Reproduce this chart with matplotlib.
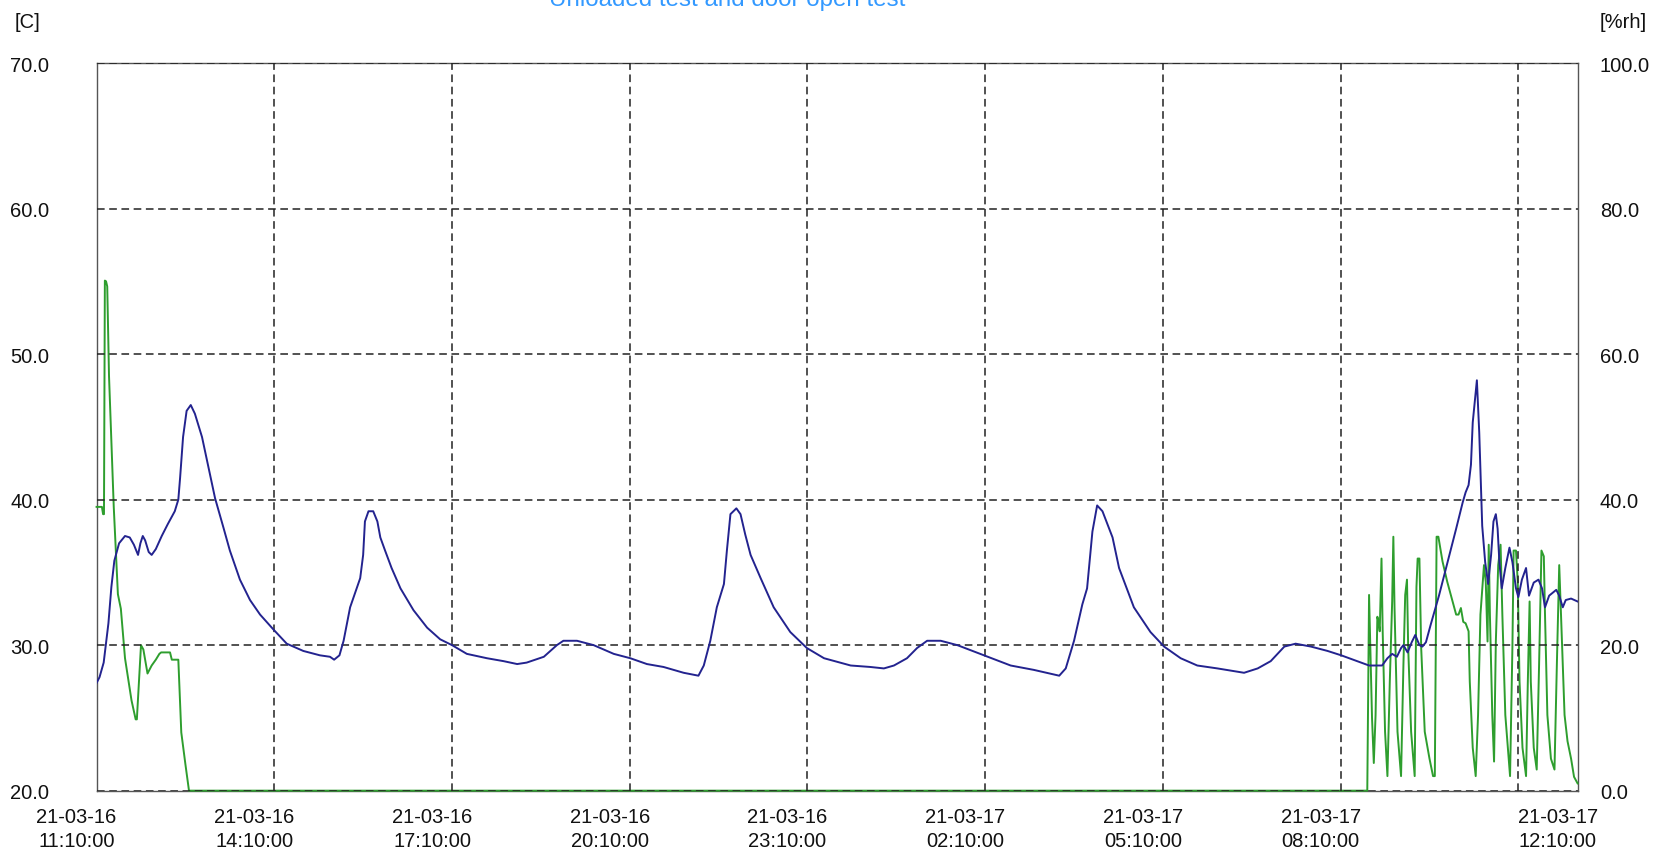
import numpy as np
import pandas as pd
import matplotlib
matplotlib.use("Agg")
import matplotlib.pyplot as plt
import matplotlib.dates as mdates
from matplotlib.transforms import ScaledTranslation

plt.rcParams['font.family'] = ['Liberation Sans', 'DejaVu Sans']

start = pd.Timestamp("2021-03-16 11:10:00")

# temperature [C], hours since start
temp_h = [0.0, 0.05, 0.12, 0.20, 0.25, 0.30, 0.38, 0.48, 0.56, 0.63, 0.70, 0.74, 0.78, 0.82,
          0.88, 0.93, 1.00, 1.10, 1.20, 1.32, 1.38, 1.41, 1.46, 1.52, 1.59, 1.66, 1.78,
          1.89, 2.00, 2.14, 2.25, 2.42, 2.59, 2.76, 2.98, 3.21, 3.49, 3.77, 3.94, 4.01,
          4.10, 4.17, 4.28, 4.45, 4.50, 4.53, 4.59, 4.67, 4.74, 4.79, 4.87, 4.98, 5.13,
          5.35, 5.58, 5.80, 6.00, 6.25, 6.59, 6.87, 7.10, 7.26, 7.55, 7.77, 7.88, 8.11,
          8.39, 8.73, 9.01, 9.29, 9.57, 9.91, 10.16, 10.25, 10.36, 10.47, 10.59, 10.64,
          10.70, 10.80, 10.87, 10.95, 11.04, 11.21, 11.43, 11.71, 11.99, 12.28, 12.73,
          13.06, 13.29, 13.46, 13.68, 13.85, 14.02, 14.25, 14.53, 14.98, 15.43, 15.82,
          16.25, 16.36, 16.50, 16.64, 16.72, 16.81, 16.89, 16.98, 17.15, 17.26, 17.51,
          17.79, 18.02, 18.30, 18.58, 18.92, 19.37, 19.60, 19.82, 20.05, 20.24, 20.50,
          20.78, 21.01, 21.28, 21.48, 21.70, 21.79, 21.87, 21.95, 22.02, 22.06, 22.13,
          22.20, 22.26, 22.33, 22.38, 22.44, 22.52, 22.66, 22.78, 22.95, 23.06, 23.11,
          23.16, 23.20, 23.23, 23.30, 23.34, 23.39, 23.44, 23.49, 23.54, 23.58, 23.62,
          23.65, 23.68, 23.72, 23.78, 23.85, 23.90, 23.96, 24.0, 24.06, 24.13, 24.18,
          24.26, 24.34, 24.40, 24.45, 24.52, 24.64, 24.69, 24.75, 24.80, 24.89, 25.0]
temp_c = [27.4, 27.8, 28.8, 31.5, 34.0, 35.8, 37.0, 37.5, 37.4, 36.9, 36.2, 37.0, 37.5, 37.2,
          36.4, 36.2, 36.6, 37.5, 38.3, 39.2, 40.0, 41.5, 44.3, 46.1, 46.5, 45.9, 44.3,
          42.2, 40.1, 38.1, 36.5, 34.5, 33.1, 32.1, 31.1, 30.1, 29.6, 29.3, 29.2, 29.0,
          29.3, 30.3, 32.6, 34.6, 36.2, 38.5, 39.2, 39.2, 38.5, 37.4, 36.5, 35.3, 33.9,
          32.4, 31.2, 30.4, 30.0, 29.4, 29.1, 28.9, 28.7, 28.8, 29.2, 30.0, 30.3, 30.3,
          30.0, 29.4, 29.1, 28.7, 28.5, 28.1, 27.9, 28.6, 30.3, 32.6, 34.2, 36.5,
          39.0, 39.4, 39.0, 37.6, 36.2, 34.6, 32.6, 30.9, 29.8, 29.1, 28.6,
          28.5, 28.4, 28.6, 29.1, 29.8, 30.3, 30.3, 30.0, 29.3, 28.6, 28.3,
          27.9, 28.4, 30.3, 32.8, 33.9, 37.8, 39.6, 39.2, 37.4, 35.3, 32.6,
          30.9, 29.9, 29.1, 28.6, 28.4, 28.1, 28.4, 28.9, 29.9, 30.1, 29.9,
          29.6, 29.3, 28.9, 28.6, 28.6, 29.1, 29.4, 29.2, 29.8, 30.0, 29.5,
          30.2, 30.7, 30.0, 29.9, 30.2, 31.4, 33.4, 35.3, 38.0, 39.8, 40.5,
          41.0, 42.4, 45.3, 48.2, 44.6, 38.2, 35.7, 34.2, 36.2, 38.5, 39.0,
          38.0, 35.7, 33.9, 35.3, 36.7, 35.7, 33.9, 33.3, 34.5, 35.3, 33.4,
          34.3, 34.5, 33.9, 32.6, 33.4, 33.8, 33.4, 32.6, 33.1, 33.2, 33.0]

# relative humidity [%rh], hours since start
rh_h = [0.0, 0.09, 0.11, 0.125, 0.14, 0.16, 0.18, 0.21, 0.29, 0.36, 0.41, 0.48, 0.59, 0.66,
        0.68, 0.75, 0.79, 0.86, 0.93, 1.0, 1.06, 1.09, 1.24, 1.27, 1.38, 1.43, 1.50, 1.56,
        21.45, 21.48, 21.53, 21.56, 21.59, 21.62, 21.64, 21.66, 21.69, 21.71, 21.75,
        21.79, 21.83, 21.87, 21.89, 21.91, 21.96, 22.02, 22.06, 22.09, 22.12, 22.14,
        22.19, 22.25, 22.28, 22.30, 22.33, 22.36, 22.42, 22.50, 22.56, 22.59, 22.62,
        22.65, 22.72, 22.80, 22.89, 22.95, 22.99, 23.03, 23.07, 23.11, 23.16, 23.18,
        23.23, 23.28, 23.32, 23.36, 23.42, 23.45, 23.48, 23.50, 23.52, 23.56, 23.59,
        23.62, 23.66, 23.70, 23.73, 23.78, 23.86, 23.90, 23.92, 23.96, 23.99, 24.02,
        24.07, 24.13, 24.16, 24.19, 24.21, 24.26, 24.31, 24.35, 24.39, 24.43, 24.45,
        24.49, 24.55, 24.61, 24.65, 24.69, 24.72, 24.78, 24.83, 24.89, 24.94, 25.0]
rh_pct = [39.0, 39.0, 38.0, 38.0, 70.1, 70.0, 69.3, 57.0, 39.0, 27.0, 25.0, 18.2, 12.4, 9.8,
          9.8, 20.0, 19.4, 16.1, 17.2, 18.0, 18.8, 19.0, 19.0, 18.0, 18.0, 8.0, 3.6, 0.0,
          0.0, 26.9, 10.0, 3.8, 10.4, 23.9, 23.2, 21.9, 31.9, 21.9, 8.1,
          2.0, 15.0, 26.0, 34.9, 25.1, 8.1, 2.0, 17.3, 26.9, 29.0, 19.8,
          8.1, 2.0, 28.0, 31.9, 31.9, 19.6, 8.1, 4.4, 2.0, 2.0, 34.9,
          34.9, 31.5, 28.7, 26.0, 24.2, 24.2, 25.1, 23.2, 23.0, 21.9, 15.0,
          5.9, 2.0, 10.4, 24.2, 31.0, 28.7, 20.5, 33.8, 24.2, 10.4, 4.0,
          20.5, 31.0, 33.8, 24.2, 10.4, 2.0, 19.8, 33.0, 33.0, 28.7, 15.0,
          5.9, 2.0, 15.0, 26.0, 15.0, 5.9, 2.9, 17.3, 33.0, 32.2, 24.2,
          10.4, 4.4, 2.9, 17.3, 31.0, 24.2, 10.4, 6.8, 4.4, 1.9, 1.0]

temp_t = start + pd.to_timedelta(temp_h, unit="h")
rh_t = start + pd.to_timedelta(rh_h, unit="h")
label_hours = [0, 3, 6, 9, 12, 15, 18, 21, 25]
grid_hours = [3, 6, 9, 12, 15, 18, 21, 24]

fig = plt.figure(figsize=(16.65, 8.54), dpi=100)
ax = fig.add_axes([0.058, 0.073, 0.8895, 0.852])
ax2 = ax.twinx()

# green drawn over the (ax2) spines so the 0 %rh stretch shows on the bottom edge
ax2.plot(rh_t, rh_pct, color="#2e9e2e", lw=1.4, zorder=3, clip_on=False)
ax.plot(temp_t, temp_c, color="#23238f", lw=1.4)
ax.set_zorder(ax2.get_zorder() + 1)
ax.patch.set_visible(False)

ax.set_xlim(start, start + pd.Timedelta(hours=25))
ax.set_ylim(20, 70)
ax2.set_ylim(0, 100)
ax.set_yticks(np.arange(20, 71, 10))
ax2.set_yticks(np.arange(0, 101, 20))
ax.yaxis.set_major_formatter(matplotlib.ticker.FormatStrFormatter("%.1f"))
ax2.yaxis.set_major_formatter(matplotlib.ticker.FormatStrFormatter("%.1f"))

ax.xaxis.remove_overlapping_locs = False
ax.set_xticks([start + pd.Timedelta(hours=h) for h in label_hours])
ax.set_xticks([start + pd.Timedelta(hours=h) for h in grid_hours], minor=True)
ax.xaxis.set_major_formatter(mdates.DateFormatter("%y-%m-%d\n%H:%M:%S"))
ax.grid(False, axis="x", which="major")
ax.grid(True, axis="x", which="minor", color="#222222", ls=(0, (5, 3)), lw=1.1)
ax.grid(True, axis="y", color="#222222", ls=(0, (5, 3)), lw=1.1)

ax.tick_params(axis="both", which="both", length=0, labelsize=14.5, labelcolor="#111111")
ax.tick_params(axis="y", pad=34)
ax.tick_params(axis="x", pad=12)
ax2.tick_params(axis="y", length=0, labelsize=14.5, pad=16, labelcolor="#111111")
for lab in ax.get_xticklabels():
    lab.set_linespacing(1.3)
    lab.set_transform(lab.get_transform() + ScaledTranslation(-20 / 100, 0, fig.dpi_scale_trans))

for s in ax.spines.values():
    s.set_visible(False)
for s in ax2.spines.values():
    s.set_color("#555555")
    s.set_linewidth(1.0)

fig.text(0.437, 1 - 6 / 854, "Unloaded test and door open test", color="#3399ff",
         fontsize=17.4, ha="center", va="baseline")
fig.text(0.009, 1 - 23 / 854, "[C]", fontsize=14.5, ha="left", va="center", color="#111111")
fig.text(0.961, 1 - 23 / 854, "[%rh]", fontsize=14.5, ha="left", va="center", color="#111111")

fig.savefig("out.png", dpi=100)
